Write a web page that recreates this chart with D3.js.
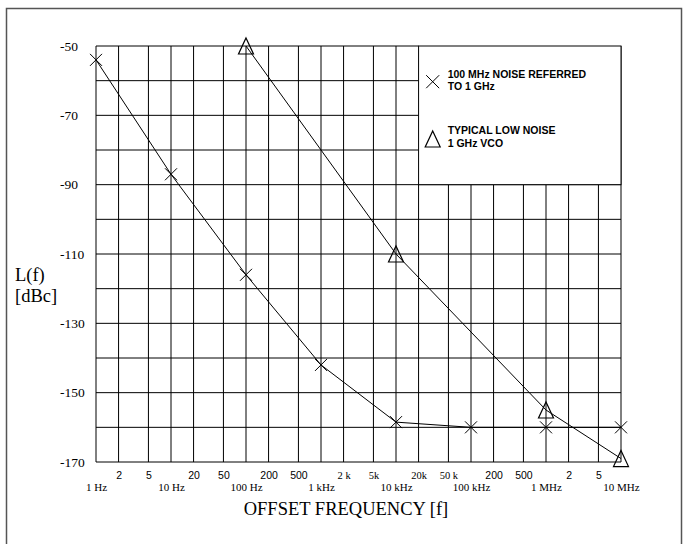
<!DOCTYPE html>
<html>
<head>
<meta charset="utf-8">
<script src="https://cdn.jsdelivr.net/npm/d3@7"></script>
<style>
  body { margin: 0; background: #fff; }
  .serif { font-family: "Liberation Serif", "Times New Roman", serif; }
  .sans { font-family: "Liberation Sans", Arial, sans-serif; }
</style>
</head>
<body>
<script>
// series: 100 MHz noise referred to 1 GHz
var noiseFreq = [1, 10, 100, 1e3, 1e4, 1e5, 1e6, 1e7];
var noiseVal = [-54, -87, -116, -142, -158.5, -160, -160, -160];
// series: typical low noise 1 GHz VCO
var vcoFreq = [100, 1e4, 1e6, 1e7];
var vcoVal = [-50, -110, -155, -169];

// axis ticks
var gridFreq = [1, 2, 5, 10, 20, 50, 100, 200, 500, 1e3, 2e3, 5e3, 1e4, 2e4, 5e4, 1e5, 2e5, 5e5, 1e6, 2e6, 5e6, 1e7];
var minorVals = [2, 5, 20, 50, 200, 500, 2e3, 5e3, 2e4, 5e4, 2e5, 5e5, 2e6, 5e6];
var minorLabels = ["2", "5", "20", "50", "200", "500", "2 k", "5k", "20k", "50 k", "200", "500", "2", "5"];
var decadeVals = [1, 10, 100, 1e3, 1e4, 1e5, 1e6, 1e7];
var decadeLabels = ["1 Hz", "10 Hz", "100 Hz", "1 kHz", "10 kHz", "100 kHz", "1 MHz", "10 MHz"];
var yGrid = [-50, -60, -70, -80, -90, -100, -110, -120, -130, -140, -150, -160, -170];
var yLabelVals = [-50, -70, -90, -110, -130, -150, -170];

var W = 688, H = 544;
var svg = d3.select("body").append("svg")
    .attr("width", W)
    .attr("height", H);

var x = d3.scaleLog().domain([1, 1e7]).range([96, 621]);
var y = d3.scaleLinear().domain([-50, -170]).range([46, 462]);

// legend occupies top-right cell block
var legX0 = x(2e4), legY1 = y(-90);

// outer frame
svg.append("rect")
    .attr("x", 6.5).attr("y", 8.5)
    .attr("width", 675).attr("height", 560)
    .attr("fill", "none")
    .attr("stroke", "#555")
    .attr("stroke-width", 1.5);

var grid = svg.append("g").attr("stroke", "#000").attr("stroke-width", 1);

// vertical grid
grid.selectAll("line.v")
    .data(gridFreq)
    .enter().append("line")
    .attr("x1", d => x(d)).attr("x2", d => x(d))
    .attr("y1", d => (x(d) >= legX0 - 0.5 && d < 1e7) ? legY1 : y(-50))
    .attr("y2", y(-170));

// horizontal grid
grid.selectAll("line.h")
    .data(yGrid)
    .enter().append("line")
    .attr("x1", x(1))
    .attr("x2", d => (d > -90) ? legX0 : x(1e7))
    .attr("y1", d => y(d)).attr("y2", d => y(d));

// legend box
svg.append("rect")
    .attr("x", legX0).attr("y", y(-50))
    .attr("width", x(1e7) - legX0).attr("height", legY1 - y(-50))
    .attr("fill", "#fff")
    .attr("stroke", "#000");

// y labels
var yAxis = svg.append("g")
    .attr("transform", "translate(" + x(1) + ",0)")
    .call(d3.axisLeft(y).tickValues(yLabelVals).tickSize(0).tickFormat(d => String(d)));
yAxis.select(".domain").remove();
yAxis.selectAll("text")
    .attr("class", "serif")
    .attr("x", 60 - x(1))
    .attr("text-anchor", "start")
    .attr("font-size", "13.5px")
    .attr("fill", "#000");

// x labels
var xMinor = svg.append("g")
    .attr("transform", "translate(0," + y(-170) + ")")
    .call(d3.axisBottom(x).tickValues(minorVals).tickSize(0)
        .tickFormat((d, i) => minorLabels[i]));
xMinor.select(".domain").remove();
xMinor.selectAll("text")
    .attr("y", 0).attr("dy", null)
    .attr("transform", "translate(0,17)")
    .attr("font-size", "10.5px")
    .attr("fill", "#000")
    .attr("class", (d, i) => /k/.test(minorLabels[i]) ? "serif" : "sans");

var xDec = svg.append("g")
    .attr("transform", "translate(0," + y(-170) + ")")
    .call(d3.axisBottom(x).tickValues(decadeVals).tickSize(0)
        .tickFormat((d, i) => decadeLabels[i]));
xDec.select(".domain").remove();
xDec.selectAll("text")
    .attr("class", "serif")
    .attr("y", 0).attr("dy", null)
    .attr("transform", "translate(0,28.5)")
    .attr("font-size", "11px")
    .attr("fill", "#000");

// axis titles
svg.append("text").attr("class", "serif")
    .attr("x", 346).attr("y", 515)
    .attr("text-anchor", "middle")
    .attr("font-size", "18.5px")
    .text("OFFSET FREQUENCY [f]");
svg.append("text").attr("class", "serif")
    .attr("x", 15).attr("y", 281)
    .attr("font-size", "18.5px")
    .text("L(f)");
svg.append("text").attr("class", "serif")
    .attr("x", 15).attr("y", 302)
    .attr("font-size", "18.5px")
    .text("[dBc]");

// lines
var line = d3.line().x(d => x(d[0])).y(d => y(d[1]));
var noisePts = noiseFreq.map((f, i) => [f, noiseVal[i]]);
var vcoPts = vcoFreq.map((f, i) => [f, vcoVal[i]]);

svg.append("path").datum(noisePts)
    .attr("d", line).attr("fill", "none")
    .attr("stroke", "#000").attr("stroke-width", 1);
svg.append("path").datum(vcoPts)
    .attr("d", line).attr("fill", "none")
    .attr("stroke", "#000").attr("stroke-width", 1);

function cross(g, cx, cy, r) {
    g.append("path")
        .attr("d", "M" + (cx - r) + "," + (cy - r) + "L" + (cx + r) + "," + (cy + r) +
                   "M" + (cx - r) + "," + (cy + r) + "L" + (cx + r) + "," + (cy - r))
        .attr("stroke", "#000").attr("stroke-width", 1).attr("fill", "none");
}
function tri(g, cx, cy) {
    g.append("path")
        .attr("d", "M" + cx + "," + (cy - 8) + "L" + (cx + 7.5) + "," + (cy + 8) +
                   "L" + (cx - 7.5) + "," + (cy + 8) + "Z")
        .attr("stroke", "#000").attr("stroke-width", 1.2).attr("fill", "none");
}

var marks = svg.append("g");
noisePts.forEach(d => cross(marks, x(d[0]), y(d[1]), 6));
vcoPts.forEach(d => tri(marks, x(d[0]), y(d[1])));

// legend contents
var leg = svg.append("g");
cross(leg, 432.7, 81.7, 6.5);
tri(leg, 432.7, 139);
var legText = [
    ["100 MHz NOISE REFERRED", 78],
    ["TO 1 GHz", 90],
    ["TYPICAL LOW NOISE", 134],
    ["1 GHz VCO", 146.5]
];
leg.selectAll("text.l")
    .data(legText)
    .enter().append("text")
    .attr("class", "sans")
    .attr("x", 447.7)
    .attr("y", d => d[1])
    .attr("font-size", "10.5px")
    .attr("font-weight", "bold")
    .text(d => d[0]);
</script>
</body>
</html>
